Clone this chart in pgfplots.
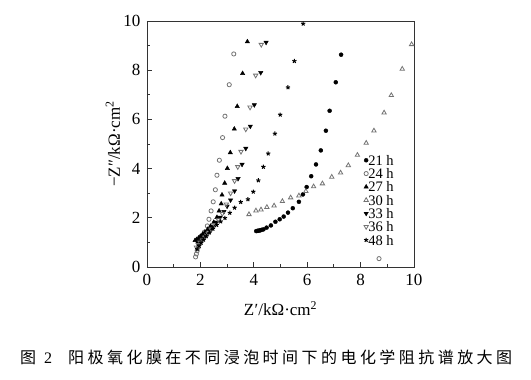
\documentclass[border=0pt]{standalone}
\usepackage{pgfplots}
\pgfplotsset{compat=1.18}
\usepackage{fontspec}
\setmainfont{Liberation Serif}
\newfontfamily\cjk{Noto Sans CJK SC}
\definecolor{og}{gray}{0.45}
\begin{document}
\begin{tikzpicture}[font=\fontsize{17}{17}\selectfont]
\useasboundingbox (-147pt,-113pt) rectangle (384pt,267pt);
\begin{axis}[at={(0pt,0pt)},anchor=south west,
  scale only axis, width=267pt, height=246pt,
  xmin=0,xmax=10,ymin=0,ymax=10,
  xtick={0,2,...,10}, ytick={0,2,...,10}, minor tick num=1,
  tick align=inside, tick pos=left,
  major tick length=5pt, minor tick length=3pt,
  axis line style={line width=0.9pt, black!80},
  every tick/.style={black!80, line width=0.8pt},
  /pgf/number format/assume math mode=true,
  xticklabel style={yshift=-4pt},
  yticklabel style={xshift=-3pt},
  xlabel={Z\kern0.5pt′/kΩ·cm\textsuperscript{2}},
  ylabel={−Z″/kΩ·cm\textsuperscript{2}},
  xlabel style={at={(axis description cs:0.5,0)},anchor=center,yshift=-42pt},
  ylabel style={at={(axis description cs:0,0.5)},anchor=center,yshift=34pt},
  legend style={at={(rel axis cs:0.812,0.455)},anchor=north west,draw=none,fill=none,
    row sep=3.3pt, inner sep=0pt, nodes={inner sep=0pt, text height=10pt, text depth=0pt}, font=\fontsize{14.5}{14.5}\selectfont},
  legend cell align=left,
  legend image code/.code={\draw[mark repeat=2,mark phase=2] plot coordinates {(0pt,0pt)(3pt,0pt)(7pt,0pt)};},
  clip=false,
]
\addplot[only marks, mark=*, mark size=2pt, black] coordinates {
(4.09,1.46)(4.14,1.47)(4.19,1.48)(4.24,1.49)(4.29,1.51)(4.36,1.53)(4.48,1.60)(4.64,1.69)(4.81,1.84)(4.97,1.94)(5.12,2.05)(5.28,2.21)(5.46,2.39)(5.69,2.65)(5.84,2.95)(5.98,3.25)(6.15,3.69)(6.33,4.17)(6.51,4.74)(6.70,5.54)(6.84,6.35)(7.07,7.51)(7.27,8.63)};
\addlegendentry{21 h}
\addplot[only marks, mark=o, mark size=2.1pt, og, mark options={line width=0.8pt}] coordinates {
(1.82,0.41)(1.85,0.53)(1.88,0.66)(1.92,0.80)(1.97,0.95)(2.02,1.10)(2.08,1.25)(2.15,1.42)(2.26,1.67)(2.32,1.94)(2.40,2.28)(2.48,2.65)(2.56,3.14)(2.62,3.73)(2.71,4.34)(2.83,5.26)(2.92,6.13)(3.08,7.41)(3.25,8.66)(8.69,0.34)};
\addlegendentry{24 h}
\addplot[only marks, mark=triangle*, mark size=2.5pt, black] coordinates {
(1.80,1.08)(1.86,1.12)(1.93,1.18)(2.00,1.25)(2.08,1.33)(2.17,1.42)(2.27,1.53)(2.38,1.66)(2.50,1.82)(2.62,2.02)(2.70,2.28)(2.78,2.57)(2.81,2.93)(2.91,3.41)(3.01,4.01)(3.12,4.65)(3.27,5.61)(3.38,6.53)(3.58,7.87)(3.76,9.16)};
\addlegendentry{27 h}
\addplot[only marks, mark=triangle, mark size=2.5pt, og, mark options={line width=0.8pt}] coordinates {
(3.82,2.14)(4.08,2.29)(4.27,2.33)(4.49,2.43)(4.76,2.49)(5.07,2.67)(5.38,2.82)(5.69,2.90)(5.95,3.08)(6.24,3.27)(6.57,3.39)(6.92,3.66)(7.25,3.83)(7.54,4.13)(7.88,4.55)(8.21,5.04)(8.50,5.54)(8.88,6.27)(9.15,6.98)(9.56,8.05)(9.91,9.05)};
\addlegendentry{30 h}
\addplot[only marks, mark=triangle*, mark size=2.5pt, black, mark options={rotate=180}] coordinates {
(1.90,0.98)(1.97,1.06)(2.05,1.15)(2.14,1.25)(2.24,1.36)(2.35,1.49)(2.47,1.64)(2.60,1.82)(2.74,2.02)(2.88,2.25)(3.00,2.47)(3.13,2.72)(3.28,3.09)(3.41,3.59)(3.56,4.17)(3.70,4.82)(3.87,5.72)(4.02,6.59)(4.26,7.90)(4.46,9.13)};
\addlegendentry{33 h}
\addplot[only marks, mark=triangle, mark size=2.5pt, og, mark options={rotate=180,line width=0.8pt}] coordinates {
(1.85,0.80)(1.92,0.90)(2.00,1.00)(2.08,1.10)(2.18,1.22)(2.29,1.36)(2.41,1.52)(2.54,1.70)(2.68,1.91)(2.82,2.17)(2.97,2.55)(3.13,3.00)(3.28,3.50)(3.40,4.07)(3.52,4.69)(3.70,5.60)(3.86,6.49)(4.07,7.79)(4.28,9.04)};
\addlegendentry{36 h}
\addplot[only marks, mark=star, mark size=2.2pt, black, mark options={line width=1pt}] coordinates {
(1.88,0.72)(1.95,0.85)(2.03,0.98)(2.12,1.11)(2.22,1.25)(2.34,1.40)(2.47,1.55)(2.61,1.71)(2.76,1.85)(2.92,1.99)(3.10,2.20)(3.28,2.41)(3.51,2.64)(3.78,2.75)(3.98,3.06)(4.17,3.52)(4.36,4.07)(4.54,4.61)(4.79,5.42)(4.99,6.19)(5.28,7.30)(5.52,8.37)(5.85,9.89)};
\addlegendentry{48 h}
\end{axis}
\node[anchor=west,inner sep=0pt] at (-127pt,-90pt) {\cjk\fontsize{16}{16}\selectfont 图\hspace{8pt}{\rmfamily 2}\hspace{16pt}\makebox[444pt][s]{阳\hfill 极\hfill 氧\hfill 化\hfill 膜\hfill 在\hfill 不\hfill 同\hfill 浸\hfill 泡\hfill 时\hfill 间\hfill 下\hfill 的\hfill 电\hfill 化\hfill 学\hfill 阻\hfill 抗\hfill 谱\hfill 放\hfill 大\hfill 图}};
\end{tikzpicture}
\end{document}
